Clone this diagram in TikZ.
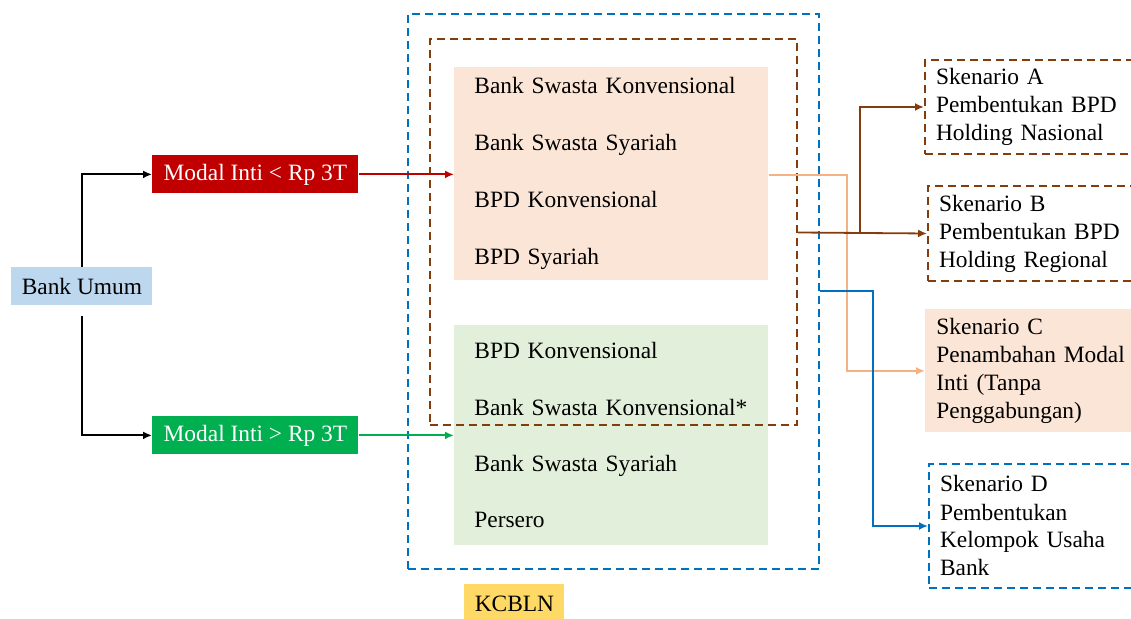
\documentclass[tikz,border=0pt]{standalone}
\usepackage{fontspec}
\setmainfont{Liberation Serif}
\usetikzlibrary{positioning, arrows.meta}
\definecolor{umumblue}{HTML}{BDD7EE}
\definecolor{lowred}{HTML}{C00000}
\definecolor{highgreen}{HTML}{00B050}
\definecolor{peachfill}{HTML}{FBE5D6}
\definecolor{sagefill}{HTML}{E2EFDA}
\definecolor{kcyellow}{HTML}{FFD966}
\definecolor{frameblue}{HTML}{0070C0}
\definecolor{framebrown}{HTML}{843C0C}
\definecolor{peachline}{HTML}{F4B183}

\begin{document}
\begin{tikzpicture}[
      x=0.5pt, y=-0.5pt,
      font=\fontsize{11.7}{14}\selectfont,
      block/.style={
        anchor=north west,
        inner sep=0pt,
        align=center
      },
      listbox/.style={
        anchor=north west,
        inner xsep=10pt,
        inner ysep=0pt,
        text width=137pt,
        align=left,
        minimum width=157pt
      },
      scen/.style={
        anchor=north west,
        inner xsep=5.5pt,
        inner ysep=0pt,
        text width=99pt,
        align=left,
        minimum width=110pt
      },
      frame/.style={
        anchor=north west,
        draw,
        line width=1pt,
        dash pattern=on 4pt off 2.5pt,
        inner sep=0pt
      },
      arrow/.style={-{Latex[length=4.5pt,width=4pt]}, line width=0.9pt}
    ]
    \useasboundingbox (0,0) rectangle (1131,619);

    % Place nodes
    \node [block, fill=umumblue, minimum width=70.5pt, minimum height=19pt] (umum) at (11,267) {Bank Umum};
    \node [block, fill=lowred, text=white, minimum width=103pt, minimum height=19pt] (low) at (152,155) {Modal Inti < Rp 3T};
    \node [block, fill=highgreen, text=white, minimum width=103pt, minimum height=19pt] (high) at (152,416) {Modal Inti > Rp 3T};

    \node [listbox, fill=peachfill, minimum height=106.5pt, font=\fontsize{11.7}{28.5}\selectfont] (peach) at (454,67)
      {Bank Swasta Konvensional\\Bank Swasta Syariah\\BPD Konvensional\\BPD Syariah};
    \node [listbox, fill=sagefill, minimum height=110pt, font=\fontsize{11.7}{28.2}\selectfont] (sage) at (454,325)
      {BPD Konvensional\\Bank Swasta Konvensional*\\Bank Swasta Syariah\\Persero};
    \node [block, fill=kcyellow, minimum width=50pt, minimum height=19pt] (kcbln) at (464,584) {KCBLN};

    % Dashed groups
    \node [frame, draw=frameblue, minimum width=205.5pt, minimum height=277.5pt] (kcframe) at (407,13) {};
    \node [frame, draw=framebrown, minimum width=183.5pt, minimum height=193pt] (bpdframe) at (429,38) {};

    % Scenarios
    \node [scen, frame, draw=framebrown, minimum height=47pt] (scA) at (924,59)
      {Skenario A\\Pembentukan BPD\\Holding Nasional};
    \node [scen, frame, draw=framebrown, minimum height=47.5pt] (scB) at (927,185)
      {Skenario B\\Pembentukan BPD\\Holding Regional};
    \node [scen, fill=peachfill, minimum height=61.5pt] (scC) at (925,309)
      {Skenario C\\Penambahan Modal\\Inti (Tanpa\\Penggabungan)};
    \node [scen, frame, draw=frameblue, minimum height=62pt] (scD) at (928,463)
      {Skenario D\\Pembentukan\\Kelompok Usaha\\Bank};

    \coordinate (brfork) at (860,232.5);
    \coordinate (cbend) at (847,175);
    \coordinate (dbend) at (873,291);

    % Draw paths
    \draw [arrow] (umum.north) |- (low.west);
    \draw [arrow, shorten <=5pt] (umum.south) |- (high.west);
    \draw [arrow, lowred] (low.east) -- (low.east -| peach.west);
    \draw [arrow, highgreen] (high.east) -- (high.east -| sage.west);

    \draw [arrow, peachline] (peach.east |- cbend) -- (cbend) |- (scC.west);
    \draw [arrow, framebrown] (bpdframe.east |- brfork) -- (scB.west);
    \draw [arrow, framebrown] (brfork) |- (scA.west);
    \draw [arrow, frameblue] (kcframe.east |- dbend) -- (dbend) |- (scD.west);
  \end{tikzpicture}
\end{document}
